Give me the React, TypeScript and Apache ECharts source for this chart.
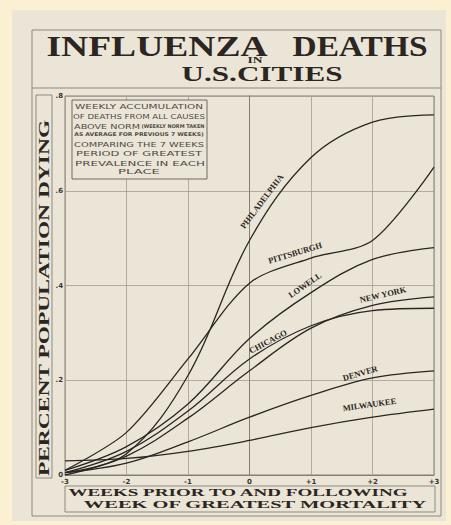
import React, { useEffect, useRef } from "react";
import * as echarts from "echarts";

// ---- data ----
const weeks = [-3, -2, -1, 0, 1, 2, 3];
const cities = ["PHILADELPHIA", "PITTSBURGH", "LOWELL", "CHICAGO", "NEW YORK", "DENVER", "MILWAUKEE"];
const philadelphia = [0.005, 0.045, 0.21, 0.495, 0.67, 0.745, 0.76];
const pittsburgh = [0.01, 0.09, 0.245, 0.405, 0.458, 0.495, 0.65];
const lowell = [0.01, 0.06, 0.15, 0.288, 0.385, 0.455, 0.48];
const chicago = [0.005, 0.05, 0.135, 0.245, 0.315, 0.347, 0.352];
const newYork = [0.0, 0.04, 0.12, 0.22, 0.31, 0.358, 0.376];
const denver = [0.005, 0.025, 0.07, 0.122, 0.168, 0.205, 0.22];
const milwaukee = [0.03, 0.035, 0.05, 0.073, 0.1, 0.122, 0.139];
const seriesValues = [philadelphia, pittsburgh, lowell, chicago, newYork, denver, milwaukee];
const yTickLabels = ["0", ".2", ".4", ".6", ".8"];
const xTickLabels = ["-3", "-2", "-1", "0", "+1", "+2", "+3"];

// label placement along each curve (data coords + angle)
const labelAt: Record<string, { w: number; v: number; angle: number }> = {
  PHILADELPHIA: { w: 0.2, v: 0.578, angle: 53 },
  PITTSBURGH: { w: 0.74, v: 0.469, angle: 17 },
  LOWELL: { w: 0.9, v: 0.401, angle: 35 },
  CHICAGO: { w: 0.3, v: 0.282, angle: 28 },
  "NEW YORK": { w: 2.17, v: 0.381, angle: 13 },
  DENVER: { w: 1.8, v: 0.215, angle: 16 },
  MILWAUKEE: { w: 1.95, v: 0.149, angle: 8 },
};

const ink = "#2b2621";
const serif = "Liberation Serif";

let measureCtx: CanvasRenderingContext2D | null = null;
function measure(text: string, font: string) {
  if (!measureCtx) measureCtx = document.createElement("canvas").getContext("2d");
  if (!measureCtx) return text.length * 6;
  measureCtx.font = font;
  return measureCtx.measureText(text).width || 1;
}

function stretched(
  text: string, cx: number, cy: number, width: number, size: number,
  family: string, weight: string, fill: string, rotation = 0
) {
  const w = measure(text, `${weight} ${size}px "${family}"`);
  return {
    type: "text", x: cx, y: cy, rotation, scaleX: width / w, z: 10, silent: true,
    style: { text, fontSize: size, fontFamily: family, fontWeight: weight, fill, align: "center", verticalAlign: "middle" },
  };
}

function buildOption() {
  const boxInk = "#4f4a44";
  const sans = "DejaVu Sans";
  const frame = "#8f887b";
  const graphic: any[] = [
    { type: "rect", z: -5, silent: true, shape: { x: 12, y: 10, width: 434, height: 511 }, style: { fill: "#ebe5d8" } },
    { type: "rect", z: 1, silent: true, shape: { x: 32, y: 30, width: 409, height: 486 }, style: { fill: "none", stroke: frame, lineWidth: 1 } },
    { type: "line", z: 1, silent: true, shape: { x1: 32, y1: 88, x2: 441, y2: 88 }, style: { stroke: frame, lineWidth: 1 } },
    { type: "rect", z: 1, silent: true, shape: { x: 36, y: 95, width: 16, height: 383 }, style: { fill: "none", stroke: frame, lineWidth: 1 } },
    { type: "rect", z: 1, silent: true, shape: { x: 65, y: 486, width: 370, height: 26 }, style: { fill: "none", stroke: frame, lineWidth: 1 } },
    // title
    stretched("INFLUENZA", 157, 46, 221, 30, serif, "bold", ink),
    stretched("DEATHS", 360, 46, 135, 30, serif, "bold", ink),
    stretched("IN", 255, 60, 15, 9, serif, "bold", ink),
    stretched("U.S.CITIES", 262, 74, 161, 22, serif, "bold", ink),
    // axis titles
    stretched("PERCENT POPULATION DYING", 44, 298, 357, 14, serif, "bold", ink, Math.PI / 2),
    stretched("WEEKS PRIOR TO AND FOLLOWING", 238, 492, 341, 11, serif, "bold", ink),
    stretched("WEEK OF GREATEST MORTALITY", 255, 504, 344, 11, serif, "bold", ink),
    // note box
    { type: "rect", z: 9, silent: true, shape: { x: 72, y: 100, width: 135, height: 79 }, style: { fill: "#ebe5d8", stroke: "#6f695e", lineWidth: 1 } },
    stretched("WEEKLY ACCUMULATION", 139, 107, 128, 7.5, sans, "normal", boxInk),
    stretched("OF DEATHS FROM ALL CAUSES", 139, 117, 132, 7.5, sans, "normal", boxInk),
    stretched("ABOVE NORM", 107, 126, 66, 7.5, sans, "normal", boxInk),
    stretched("(WEEKLY NORM TAKEN", 173, 126, 63, 5, sans, "bold", boxInk),
    stretched("AS AVERAGE FOR PREVIOUS 7 WEEKS)", 139, 134, 130, 5, sans, "bold", boxInk),
    stretched("COMPARING THE 7 WEEKS", 139, 144, 130, 7.5, sans, "normal", boxInk),
    stretched("PERIOD OF GREATEST", 139, 153, 126, 7.5, sans, "normal", boxInk),
    stretched("PREVALENCE IN EACH", 140, 163, 130, 7.5, sans, "normal", boxInk),
    stretched("PLACE", 139, 172, 42, 7.5, sans, "normal", boxInk),
  ];

  const series = cities.map((city, i) => {
    const lp = labelAt[city];
    return {
      type: "line",
      name: city,
      data: weeks.map((w, j) => [w, seriesValues[i][j]]),
      smooth: city === "PITTSBURGH" ? 0.3 : 0.36,
      showSymbol: false,
      symbol: "none",
      lineStyle: { color: ink, width: 1.3 },
      z: 3,
      markPoint: {
        symbol: "circle",
        symbolSize: 1,
        itemStyle: { color: "rgba(0,0,0,0)" },
        silent: true,
        data: [{ coord: [lp.w, lp.v], name: city }],
        label: {
          show: true,
          position: "inside",
          formatter: city,
          rotate: lp.angle,
          fontSize: 8.5,
          fontWeight: "bold",
          fontFamily: serif,
          color: ink,
        },
      },
    };
  });

  return {
    animation: false,
    backgroundColor: "transparent",
    grid: { left: 65, right: 17, top: 96, bottom: 50, show: true, borderColor: "#857e72", borderWidth: 1, backgroundColor: "transparent" },
    xAxis: {
      type: "value", min: -3, max: 3, interval: 1,
      axisLine: { show: true, lineStyle: { color: "#857e72" } },
      axisTick: { show: false },
      splitLine: { show: true, lineStyle: { color: "#a39c8f", width: 0.8 } },
      axisLabel: {
        fontSize: 7, fontWeight: "bold", fontFamily: "DejaVu Sans", color: "#3a352f", margin: 3,
        formatter: (v: number) => xTickLabels[Math.round(v) + 3],
      },
    },
    yAxis: {
      type: "value", min: 0, max: 0.8, interval: 0.2,
      axisLine: { show: true, lineStyle: { color: "#857e72" } },
      axisTick: { show: false },
      splitLine: { show: true, lineStyle: { color: "#a39c8f", width: 0.8 } },
      axisLabel: {
        fontSize: 7, fontWeight: "bold", fontFamily: "DejaVu Sans", color: "#3a352f", margin: 2,
        formatter: (v: number) => yTickLabels[Math.round(v * 5)],
      },
    },
    graphic,
    series,
  };
}

export default function App() {
  const ref = useRef<HTMLDivElement>(null);
  useEffect(() => {
    if (!ref.current) return;
    const chart = echarts.init(ref.current, null, { renderer: "svg" });
    chart.setOption(buildOption() as any);
    return () => chart.dispose();
  }, []);
  return (
    <div
      ref={ref}
      style={{ position: "fixed", left: 0, top: 0, width: 451, height: 525, background: "#fcf0d2" }}
    />
  );
}
